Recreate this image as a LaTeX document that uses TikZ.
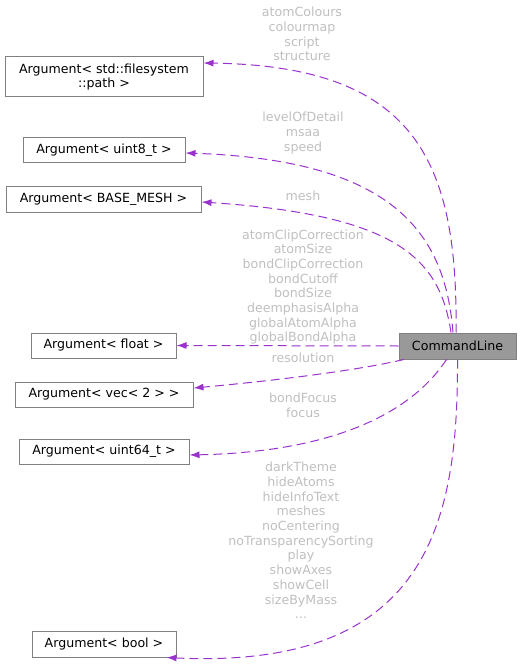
\documentclass[tikz,border=0pt]{standalone}
\usepackage{fontspec}
\setmainfont{DejaVu Sans}
\usetikzlibrary{arrows.meta}
\definecolor{edgec}{HTML}{9A32CD}
\definecolor{lblc}{HTML}{BFBFBF}
\definecolor{boxc}{HTML}{808080}
\definecolor{clfill}{HTML}{999999}
\begin{document}
\begin{tikzpicture}[x=1pt,y=-1pt,
  cls/.style={draw=boxc, fill=white, line width=1pt, minimum height=25pt, inner sep=0pt,
    font=\fontsize{12.6}{14.3}\selectfont, align=center},
  lbl/.style={text=lblc, font=\fontsize{12.6}{14.7}\selectfont, align=center, inner sep=0pt},
  dep/.style={draw=edgec, line width=1pt, dash pattern=on 9pt off 5pt,
    -{Latex[length=10pt,width=7pt]}}]
\useasboundingbox (0,0) rectangle (521,668);
% class boxes
\node[cls, minimum width=198pt, minimum height=40pt] (fs) at (104,77) {Argument< std::filesystem\\::path >};
\node[cls, minimum width=162pt] (u8) at (104,150.5) {Argument< uint8\_t >};
\node[cls, minimum width=195pt] (bm) at (103.5,199.5) {Argument< BASE\_MESH >};
\node[cls, minimum width=145pt] (fl) at (103.5,345.5) {Argument< float >};
\node[cls, minimum width=178pt] (vec) at (104,394.5) {Argument< vec< 2 > >};
\node[cls, minimum width=170pt] (u64) at (104,451.5) {Argument< uint64\_t >};
\node[cls, minimum width=144pt, minimum height=26pt] (bool) at (104,644) {Argument< bool >};
\node[cls, fill=clfill, minimum width=117pt, minimum height=26pt] (cl) at (457.5,346) {CommandLine};
% edges
\draw[dep] ([xshift=-1.5pt]cl.north) .. controls (458,160) and (415,66) .. ([yshift=14pt]fs.east);
\draw[dep] ([xshift=-4.5pt]cl.north) .. controls (445,230) and (390,160) .. ([yshift=-2.5pt]u8.east);
\draw[dep] ([xshift=-6.5pt]cl.north) .. controls (440,260) and (400,215) .. ([yshift=-2.5pt]bm.east);
\draw[dep] (cl.west) -- (fl.east);
\draw[dep] ([xshift=-53.5pt]cl.south) .. controls (350,372) and (260,382) .. ([yshift=6.5pt]vec.east);
\draw[dep] ([xshift=-11pt]cl.south) .. controls (410,415) and (330,452) .. ([yshift=-3.5pt]u64.east);
\draw[dep] (cl.south) .. controls (458,520) and (430,670) .. ([xshift=-10pt]bool.south east);
% edge labels
\node[lbl] (l1) at (302,34) {atomColours\\colourmap\\script\\structure};
\node[lbl] (l2) at (303,133) {levelOfDetail\\msaa\\speed};
\node[lbl] (l3) at (303,196) {mesh};
\node[lbl] (l4) at (303,287) {atomClipCorrection\\atomSize\\bondClipCorrection\\bondCutoff\\bondSize\\deemphasisAlpha\\globalAtomAlpha\\globalBondAlpha};
\node[lbl] (l5) at (303,358) {resolution};
\node[lbl] (l6) at (303,405.5) {bondFocus\\focus};
\node[lbl] (l7) at (301,540.5) {darkTheme\\hideAtoms\\hideInfoText\\meshes\\noCentering\\noTransparencySorting\\play\\showAxes\\showCell\\sizeByMass\\...};
\end{tikzpicture}
\end{document}
